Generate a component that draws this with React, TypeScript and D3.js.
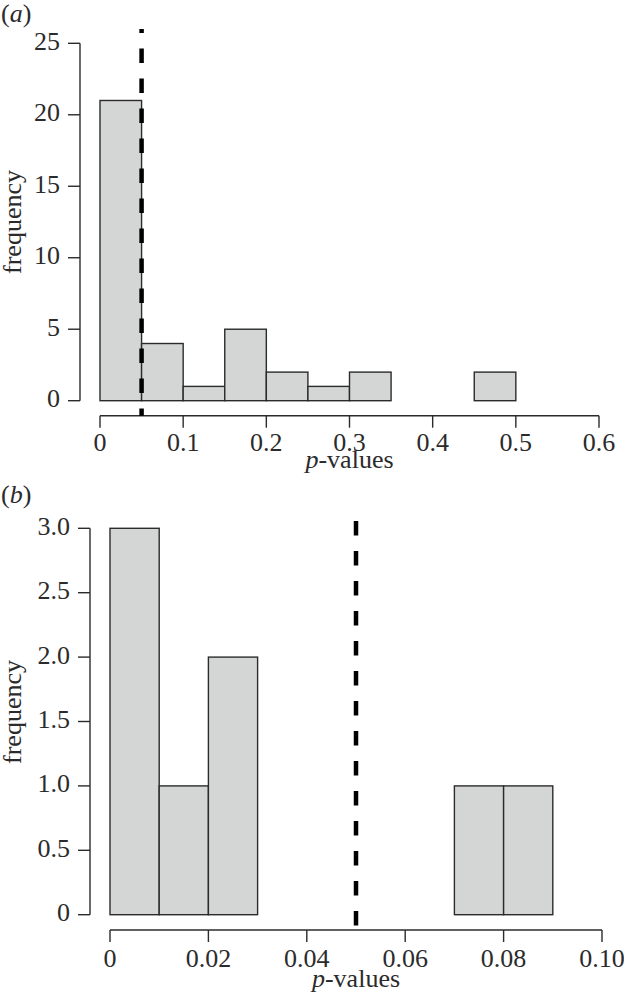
import React from "react";
import * as d3 from "d3";

// ---------- data ----------
const binEdgesA = [0, 0.05, 0.1, 0.15, 0.2, 0.25, 0.3, 0.35, 0.4, 0.45, 0.5];
const countsA = [21, 4, 1, 5, 2, 1, 2, 0, 0, 2];
const xTicksA = [0, 0.1, 0.2, 0.3, 0.4, 0.5, 0.6];
const xTickLabelsA = ["0", "0.1", "0.2", "0.3", "0.4", "0.5", "0.6"];
const yTicksA = [0, 5, 10, 15, 20, 25];
const yTickLabelsA = ["0", "5", "10", "15", "20", "25"];

const binEdgesB = [0, 0.01, 0.02, 0.03, 0.04, 0.05, 0.06, 0.07, 0.08, 0.09];
const countsB = [3, 1, 2, 0, 0, 0, 0, 1, 1];
const xTicksB = [0, 0.02, 0.04, 0.06, 0.08, 0.1];
const xTickLabelsB = ["0", "0.02", "0.04", "0.06", "0.08", "0.10"];
const yTicksB = [0, 0.5, 1, 1.5, 2, 2.5, 3];
const yTickLabelsB = ["0", "0.5", "1.0", "1.5", "2.0", "2.5", "3.0"];

const threshold = 0.05;

const FONT = "'Liberation Serif', 'Times New Roman', serif";
const INK = "#2b2b2b";
const FILL = "#d4d6d5";
const FS = 26;

type PanelProps = {
  label: string;
  labelY: number;
  edges: number[];
  counts: number[];
  xTicks: number[];
  xLabels: string[];
  yTicks: number[];
  yLabels: string[];
  xDomain: [number, number];
  xRange: [number, number];
  yDomain: [number, number];
  yRange: [number, number];
  xAxisY: number;
  yAxisX: number;
  yLabelRight: number;
  tickLabelGap: number;
  titleGap: number;
  dashTop: number;
  dashOffset: number;
  freqY: number;
};

function Panel(p: PanelProps) {
  const x = d3.scaleLinear().domain(p.xDomain).range(p.xRange);
  const y = d3.scaleLinear().domain(p.yDomain).range(p.yRange);
  return (
    <g>
      <text x={1} y={p.labelY} fontFamily={FONT} fontSize={FS} fill={INK}>
        (<tspan fontStyle="italic">{p.label}</tspan>)
      </text>
      {/* bars */}
      {p.counts.map((c, i) => (
        <rect
          key={i}
          x={x(p.edges[i])}
          y={y(c)}
          width={x(p.edges[i + 1]) - x(p.edges[i])}
          height={y(0) - y(c)}
          fill={FILL}
          stroke={INK}
          strokeWidth={1.4}
        />
      ))}
      {/* y axis */}
      <line
        x1={p.yAxisX}
        x2={p.yAxisX}
        y1={y(p.yTicks[0])}
        y2={y(p.yTicks[p.yTicks.length - 1])}
        stroke={INK}
        strokeWidth={1.4}
      />
      {p.yTicks.map((t, i) => (
        <g key={i}>
          <line
            x1={p.yAxisX - 12}
            x2={p.yAxisX}
            y1={y(t)}
            y2={y(t)}
            stroke={INK}
            strokeWidth={1.4}
          />
          <text
            x={p.yLabelRight}
            y={y(t)}
            dy="0.25em"
            textAnchor="end"
            fontFamily={FONT}
            fontSize={FS}
            fill={INK}
          >
            {p.yLabels[i]}
          </text>
        </g>
      ))}
      {/* x axis */}
      <line
        x1={x(p.xTicks[0])}
        x2={x(p.xTicks[p.xTicks.length - 1])}
        y1={p.xAxisY}
        y2={p.xAxisY}
        stroke={INK}
        strokeWidth={1.4}
      />
      {p.xTicks.map((t, i) => (
        <g key={i}>
          <line
            x1={x(t)}
            x2={x(t)}
            y1={p.xAxisY}
            y2={p.xAxisY + 12}
            stroke={INK}
            strokeWidth={1.4}
          />
          <text
            x={x(t)}
            y={p.xAxisY + p.tickLabelGap}
            textAnchor="middle"
            fontFamily={FONT}
            fontSize={FS}
            fill={INK}
          >
            {p.xLabels[i]}
          </text>
        </g>
      ))}
      <text
        x={(p.xRange[0] + p.xRange[1]) / 2}
        y={p.xAxisY + p.titleGap}
        textAnchor="middle"
        fontFamily={FONT}
        fontSize={FS}
        fill={INK}
      >
        <tspan fontStyle="italic">p</tspan>-values
      </text>
      <text
        transform={`translate(21,${p.freqY}) rotate(-90)`}
        textAnchor="middle"
        fontFamily={FONT}
        fontSize={FS}
        fill={INK}
      >
        frequency
      </text>
      {/* threshold line */}
      <line
        x1={x(threshold)}
        x2={x(threshold)}
        y1={p.dashTop}
        y2={p.xAxisY}
        stroke="#000"
        strokeWidth={4.5}
        strokeDasharray="14.5 15.5"
        strokeDashoffset={p.dashOffset}
      />
    </g>
  );
}

export default function App() {
  return (
    <svg
      width={624}
      height={994}
      style={{ position: "absolute", left: 0, top: 0, background: "#fff" }}
    >
      <rect width={624} height={994} fill="#fff" />
      <Panel
        label="a"
        labelY={22}
        edges={binEdgesA}
        counts={countsA}
        xTicks={xTicksA}
        xLabels={xTickLabelsA}
        yTicks={yTicksA}
        yLabels={yTickLabelsA}
        xDomain={[0, 0.6]}
        xRange={[100, 599]}
        yDomain={[0, 25]}
        yRange={[400.7, 43.3]}
        xAxisY={415.7}
        yAxisX={80}
        yLabelRight={60}
        tickLabelGap={35}
        titleGap={52}
        dashTop={29}
        dashOffset={10.5}
        freqY={222}
      />
      <Panel
        label="b"
        labelY={503}
        edges={binEdgesB}
        counts={countsB}
        xTicks={xTicksB}
        xLabels={xTickLabelsB}
        yTicks={yTicksB}
        yLabels={yTickLabelsB}
        xDomain={[0, 0.1]}
        xRange={[110, 602]}
        yDomain={[0, 3]}
        yRange={[914.7, 528.3]}
        xAxisY={930}
        yAxisX={90}
        yLabelRight={70}
        tickLabelGap={36.5}
        titleGap={56.5}
        dashTop={521}
        dashOffset={0}
        freqY={712}
      />
    </svg>
  );
}
